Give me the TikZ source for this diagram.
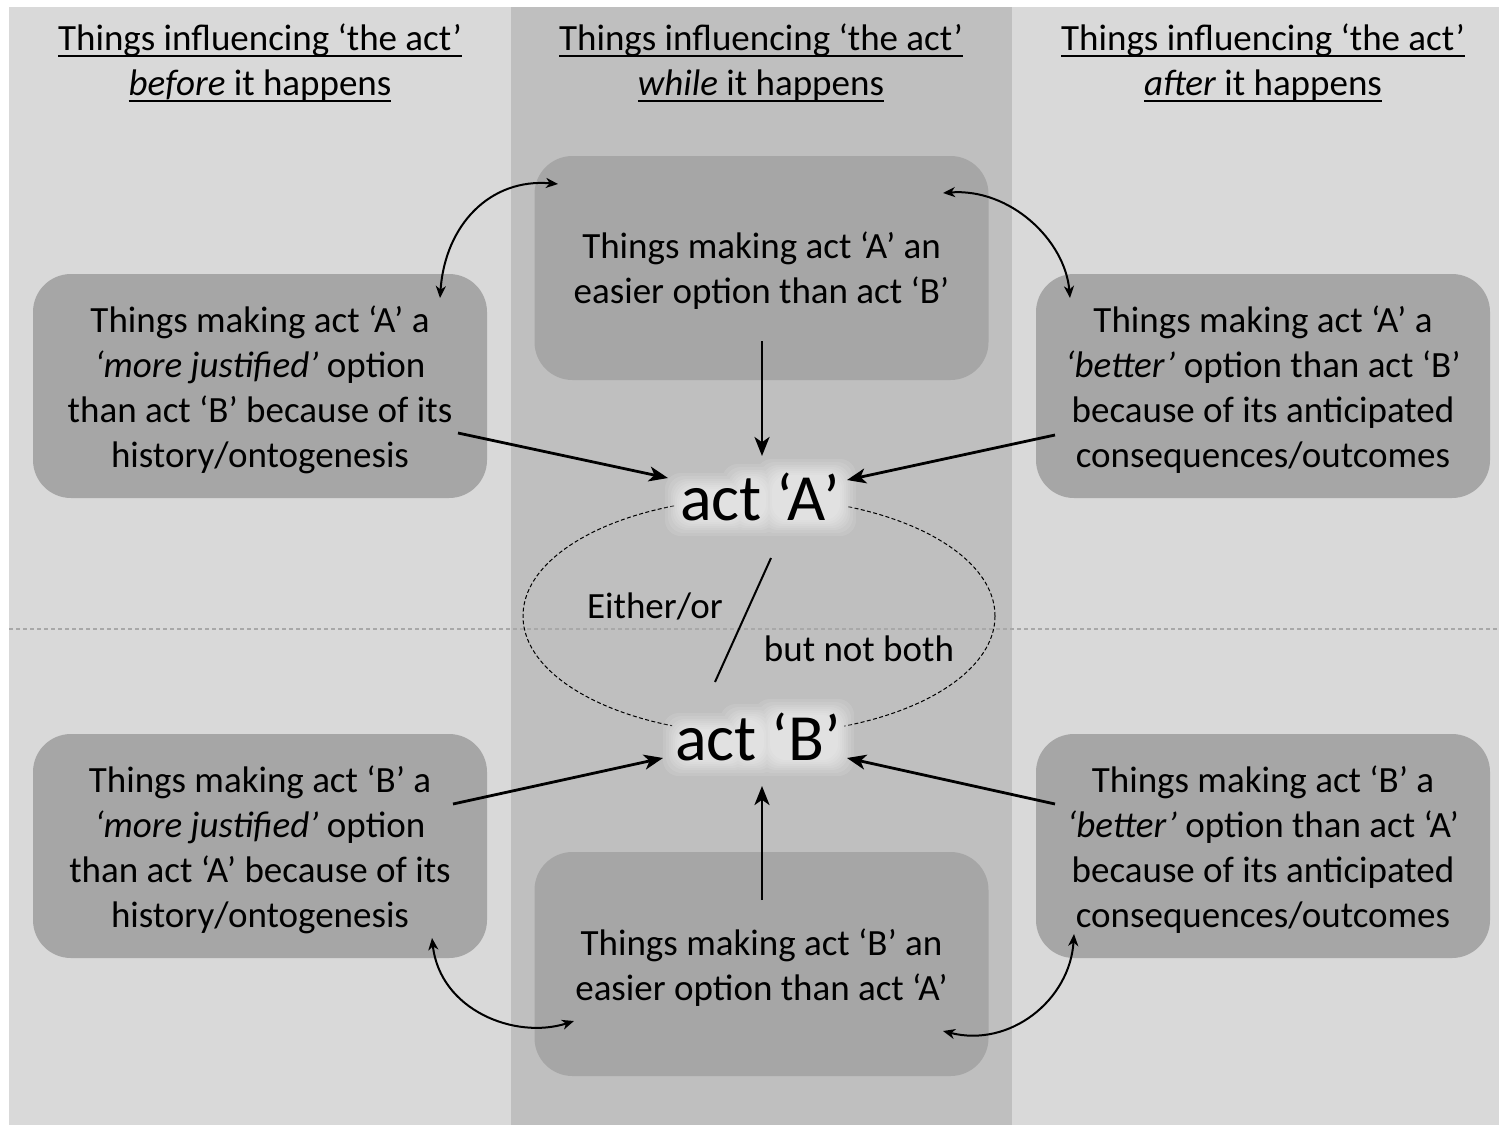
\documentclass[tikz,border=0pt]{standalone}
\usepackage{fontspec}
\setmainfont{Carlito}
\usetikzlibrary{arrows.meta,calc}
\definecolor{panel}{HTML}{D9D9D9}
\definecolor{midcol}{HTML}{BFBFBF}
\definecolor{boxfill}{HTML}{A6A6A6}
\definecolor{sepline}{HTML}{A8A8A8}
% underline that crosses the descenders
\newcommand\ulin[1]{\setbox0\hbox{#1}\rlap{\rule[-0.17em]{\wd0}{0.055em}}\box0}
% soft white halo following the letter groups of an act label (local coordinates)
\newcommand\halo[1]{%
  \begin{scope}[shift={#1}]
    \foreach \m in {16,13,10,8,6,4,2,0}{
      \fill[white, opacity=0.1, rounded corners=8pt]
        (-79-\m,-8-\m) rectangle (-18+\m,23+\m)
        (-22-\m,-17-\m) rectangle (6+\m,23+\m)
        (12-\m,-22-\m) rectangle (80+\m,23+\m);
    }
  \end{scope}}
\begin{document}
\begin{tikzpicture}[x=0.5pt,y=-0.5pt,
  txt/.style={font=\fontsize{18.5}{22.5}\selectfont, align=center, inner sep=0pt},
  actfont/.style={font=\fontsize{33}{38}\selectfont, inner sep=0pt},
  boxshape/.style={fill=boxfill, rounded corners=19pt,
                  minimum width=227pt, minimum height=112pt, inner sep=0pt},
  bigarrow/.style={-{Stealth[length=9.5pt,width=7.5pt,inset=2.6pt]}, line width=1.4pt},
  bendarrow/.style={{Stealth[length=6pt,width=5pt,inset=1.8pt]}-{Stealth[length=6pt,width=5pt,inset=1.8pt]}, line width=1pt}]
\useasboundingbox (0,0) rectangle (1499,1125);

% backgrounds
\fill[white] (0,0) rectangle (1499,1125);
\fill[panel] (9,7) rectangle (1499,1125);
\fill[midcol] (511,7) rectangle (1012,1125);
\draw[sepline, line width=0.6pt, dash pattern=on 2pt off 1.5pt] (9,629) -- (1499,629);

% column headings
\node[txt] (hbefore) at (260,63) {\ulin{Things influencing ‘the act’}\\\ulin{\textit{before} it happens}};
\node[txt] (hwhile)  at (761,63) {\ulin{Things influencing ‘the act’}\\\ulin{\textit{while} it happens}};
\node[txt] (hafter)  at (1263,63) {\ulin{Things influencing ‘the act’}\\\ulin{\textit{after} it happens}};

% boxes
\node[boxshape] (tm) at (761.5,268) {};
\node[boxshape] (lt) at (260,386) {};
\node[boxshape] (rt) at (1263,386) {};
\node[boxshape] (lb) at (260,846) {};
\node[boxshape] (rb) at (1263,846) {};
\node[boxshape] (bm) at (761.5,964) {};

\node[txt] (tmtext) at (761.5,271) {Things making act ‘A’ an\\easier option than act ‘B’};
\node[txt] (lttext) at (260,390) {Things making act ‘A’ a\\\textit{‘more justified’} option\\than act ‘B’ because of its\\history/ontogenesis};
\node[txt] (rttext) at (1263,390) {Things making act ‘A’ a\\\textit{‘better’} option than act ‘B’\\because of its anticipated\\consequences/outcomes};
\node[txt] (lbtext) at (260,850) {Things making act ‘B’ a\\\textit{‘more justified’} option\\than act ‘A’ because of its\\history/ontogenesis};
\node[txt] (rbtext) at (1263,850) {Things making act ‘B’ a\\\textit{‘better’} option than act ‘A’\\because of its anticipated\\consequences/outcomes};
\node[txt] (bmtext) at (761.5,968) {Things making act ‘B’ an\\easier option than act ‘A’};

% either/or ellipse, broken where the act labels sit
\begin{scope}[even odd rule]
  \clip (0,0) rectangle (1499,1125) (674,468) rectangle (846,526) (672,708) rectangle (844,766);
  \draw[line width=0.5pt, dash pattern=on 2pt off 1.2pt] (759,616) ellipse [x radius=118pt, y radius=59pt];
\end{scope}
\coordinate (slashtop) at (771,558);
\coordinate (slashbot) at (715,682);
\draw[line width=1pt] (slashtop) -- (slashbot);
\node[txt] (either) at (655,606) {Either/or};
\node[txt] (notboth) at (859,649) {but not both};

% act labels
\halo{(760,497)}
\halo{(758,737)}
\node[actfont] (actA) at (760,497) {act ‘A’};
\node[actfont] (actB) at (758,737) {act ‘B’};

% arrow end points
\coordinate (tmout) at (762,341);
\coordinate (ltout) at (458,433);
\coordinate (rtout) at (1055,435);
\coordinate (lbout) at (453,804);
\coordinate (rbout) at (1055,804);
\coordinate (bmout) at (762,900);
\coordinate (aN) at (762,456);
\coordinate (aW) at (668,478);
\coordinate (aE) at (847,480);
\coordinate (bS) at (762,786);
\coordinate (bW) at (663,758);
\coordinate (bE) at (847,758);

\draw[bigarrow] (tmout) -- (aN);
\draw[bigarrow] (ltout) -- (aW);
\draw[bigarrow] (rtout) -- (aE);
\draw[bigarrow] (bmout) -- (bS);
\draw[bigarrow] (lbout) -- (bW);
\draw[bigarrow] (rbout) -- (bE);

% links between neighbouring boxes
\coordinate (ltTop) at (440,298);
\coordinate (tmLeft) at (558,184);
\coordinate (tmRight) at (943,193);
\coordinate (rtTop) at (1070,298);
\coordinate (lbBot) at (432,938);
\coordinate (bmLeft) at (574,1021);
\coordinate (bmRight) at (943,1031);
\coordinate (rbBot) at (1074,934);
\draw[bendarrow] (ltTop) .. controls (445,225) and (490,178) .. (tmLeft);
\draw[bendarrow] (tmRight) .. controls (1010,188) and (1065,240) .. (rtTop);
\draw[bendarrow] (lbBot) .. controls (440,1010) and (515,1040) .. (bmLeft);
\draw[bendarrow] (bmRight) .. controls (1010,1048) and (1070,1000) .. (rbBot);
\end{tikzpicture}
\end{document}
